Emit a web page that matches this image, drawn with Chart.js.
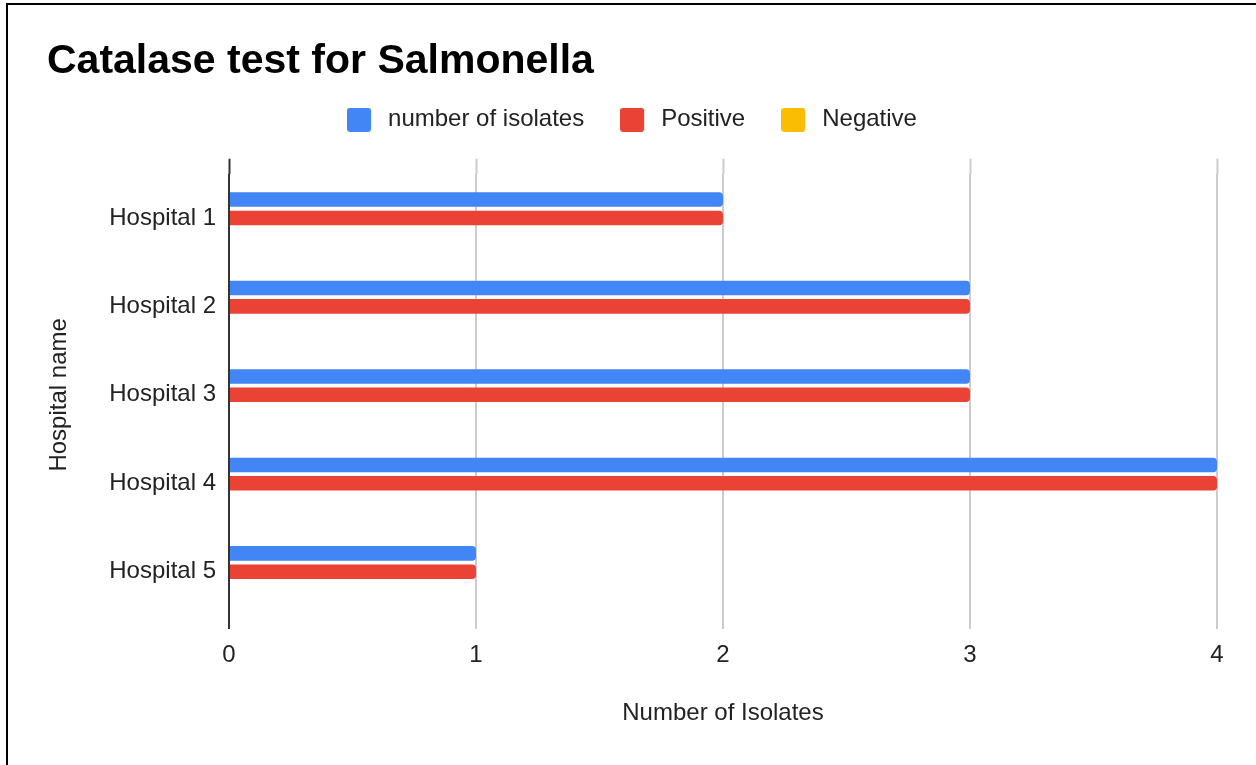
<!DOCTYPE html>
<html>
<head>
<meta charset="utf-8">
<title>Catalase test for Salmonella</title>
<script src="https://cdn.jsdelivr.net/npm/chart.js@4.4.1/dist/chart.umd.min.js"></script>
<style>
  html, body { margin: 0; padding: 0; background: #fff; overflow: hidden; }
  #wrap { position: relative; width: 1256px; height: 765px; }
  #frame { position: absolute; left: 6px; top: 3px; right: -10px; bottom: -10px;
           border-left: 2px solid #000; border-top: 2px solid #000; pointer-events: none; }
  canvas { position: absolute; left: 0; top: 0; }
</style>
</head>
<body>
<div id="wrap">
  <canvas id="myChart" width="1256" height="765"></canvas>
  <div id="frame"></div>
</div>
<script>
// data
const hospitals = ['Hospital 1', 'Hospital 2', 'Hospital 3', 'Hospital 4', 'Hospital 5'];
const isolates = [2, 3, 3, 4, 1];
const positive = [2, 3, 3, 4, 1];
const negative = [0, 0, 0, 0, 0];
const xTicks = [0, 1, 2, 3, 4];

const seriesNames = ['number of isolates', 'Positive', 'Negative'];
const seriesColors = ['#4285f4', '#ea4335', '#fbbc04'];

const FONT = "'Liberation Sans', Arial, sans-serif";
const GRID = '#cccccc';
const AXIS = '#333333';

Chart.defaults.font.family = FONT;
Chart.defaults.color = '#222222';

// legend swatches: 24px rounded square with some empty room on the right
const swatches = seriesColors.map(c => {
    const cv = document.createElement('canvas');
    cv.width = 29;
    cv.height = 24;
    const g = cv.getContext('2d');
    g.fillStyle = c;
    g.beginPath();
    g.roundRect(0, 0, 24, 24, 3);
    g.fill();
    return cv;
});

const lineColor = ctx => (ctx.tick && ctx.tick.value === 0) ? AXIS : GRID;

new Chart(document.getElementById('myChart').getContext('2d'), {
    type: 'bar',
    data: {
        labels: hospitals,
        datasets: [isolates, positive, negative].map((d, i) => ({
            label: seriesNames[i],
            data: d,
            backgroundColor: seriesColors[i],
            borderWidth: 0,
            borderRadius: 4,
            categoryPercentage: 0.624,
            barPercentage: 0.79
        }))
    },
    options: {
        indexAxis: 'y',
        responsive: false,
        animation: false,
        events: [],
        layout: { padding: { left: 47, right: 39, top: 4, bottom: 33 } },
        plugins: {
            title: {
                display: true,
                text: 'Catalase test for Salmonella',
                align: 'start',
                color: '#000',
                font: { size: 41, weight: 'bold', lineHeight: 0.7 },
                padding: { top: 43, bottom: -4 }
            },
            legend: {
                position: 'top',
                labels: {
                    usePointStyle: true,
                    pointStyleWidth: 29,
                    boxHeight: 24,
                    padding: 36,
                    color: '#222',
                    font: { size: 24 },
                    generateLabels(chart) {
                        const items = Chart.defaults.plugins.legend.labels.generateLabels(chart);
                        items.forEach((it, i) => { it.pointStyle = swatches[i]; });
                        return items;
                    }
                }
            },
            tooltip: { enabled: false }
        },
        scales: {
            x: {
                type: 'linear',
                position: 'bottom',
                min: xTicks[0],
                max: xTicks[xTicks.length - 1],
                afterFit(scale) { scale.height = 116; },
                ticks: { stepSize: 1, padding: 12, font: { size: 24 }, color: '#222' },
                grid: { color: lineColor, tickColor: lineColor, lineWidth: 2, tickWidth: 2, tickLength: 13 },
                border: { display: false },
                title: {
                    display: true,
                    text: 'Number of Isolates',
                    color: '#222',
                    font: { size: 24 },
                    padding: { top: 0, bottom: 4 }
                }
            },
            // top axis only carries the short tick stubs above the plot
            xTop: {
                type: 'linear',
                position: 'top',
                min: xTicks[0],
                max: xTicks[xTicks.length - 1],
                afterFit(scale) { scale.height = 32; },
                ticks: { stepSize: 1, display: false },
                grid: { drawOnChartArea: false, tickColor: lineColor, tickWidth: 2, tickLength: 15 },
                border: { display: false }
            },
            y: {
                type: 'category',
                afterFit(scale) { scale.width = 182; },
                ticks: { padding: 13, font: { size: 24 }, color: '#222' },
                grid: { display: false, drawTicks: false },
                border: { display: false },
                title: {
                    display: true,
                    text: 'Hospital name',
                    color: '#222',
                    font: { size: 24, lineHeight: 1 },
                    padding: 0
                }
            }
        }
    }
});
</script>
</body>
</html>
